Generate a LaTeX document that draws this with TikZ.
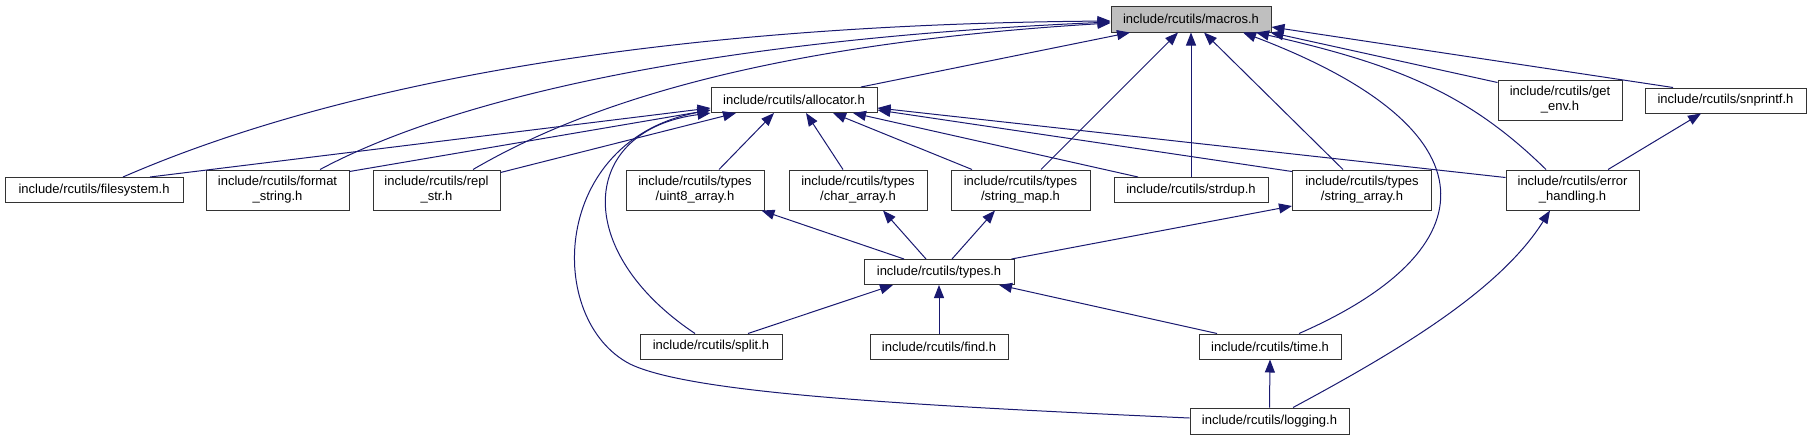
\documentclass[tikz,border=0pt]{standalone}
\usepackage{fontspec}
\setmainfont{Liberation Sans}
\usetikzlibrary{arrows.meta}

\definecolor{edgeblue}{HTML}{191970}

\tikzset{
  file/.style={draw=black!80, line width=1pt, fill=white, inner sep=0pt,
    align=center, minimum height=25pt, font=\fontsize{13}{15}\selectfont},
  file2/.style={file, minimum height=40pt},
  dep/.style={color=edgeblue, line width=1pt, -{Triangle[length=13pt,width=10pt]}},
}

\begin{document}
\begin{tikzpicture}[x=1pt, y=-1pt]

   \useasboundingbox (0,0) rectangle (1811,440);

   % top
   \node[file, fill=gray!50, minimum width=160pt, minimum height=26pt] (macros) at (1191,19) {include/rcutils/macros.h};
   \node[file, minimum width=166pt] (allocator) at (794,100) {include/rcutils/allocator.h};
   \node[file2, minimum width=124pt] (getenv) at (1560,100) {include/rcutils/get\\\_env.h};
   \node[file, minimum width=161pt] (snprintf) at (1725.5,100.5) {include/rcutils/snprintf.h};

   % middle row
   \node[file, minimum width=178pt] (filesystem) at (94,190) {include/rcutils/filesystem.h};
   \node[file2, minimum width=143pt] (formatstr) at (277.5,190) {include/rcutils/format\\\_string.h};
   \node[file2, minimum width=127pt] (replstr) at (436.5,190) {include/rcutils/repl\\\_str.h};
   \node[file2, minimum width=138pt] (uintarr) at (695,190) {include/rcutils/types\\/uint8\_array.h};
   \node[file2, minimum width=138pt] (chararr) at (858,190) {include/rcutils/types\\/char\_array.h};
   \node[file2, minimum width=139pt] (strmap) at (1020.5,190) {include/rcutils/types\\/string\_map.h};
   \node[file, minimum width=154pt] (strdup) at (1191,190) {include/rcutils/strdup.h};
   \node[file2, minimum width=139pt] (strarr) at (1362,190) {include/rcutils/types\\/string\_array.h};
   \node[file2, minimum width=133pt] (errh) at (1572.5,190) {include/rcutils/error\\\_handling.h};

   % bottom
   \node[file, minimum width=150pt] (types) at (939,272) {include/rcutils/types.h};
   \node[file, minimum width=142pt] (split) at (711,346.5) {include/rcutils/split.h};
   \node[file, minimum width=138pt] (find) at (939,346.5) {include/rcutils/find.h};
   \node[file, minimum width=142pt] (time) at (1270,346.5) {include/rcutils/time.h};
   \node[file, minimum width=159pt, minimum height=26pt] (logging) at (1269.5,421) {include/rcutils/logging.h};

   % into macros.h
   \draw[dep] ([xshift=29pt]filesystem.north) .. controls (300,100) and (600,25) .. ([yshift=-2pt]macros.west);
   \draw[dep] ([xshift=42.5pt]formatstr.north) .. controls (450,100) and (700,40) .. ([yshift=-3pt]macros.west);
   \draw[dep] ([xshift=36.5pt]replstr.north) .. controls (575,110) and (750,45) .. ([yshift=-4pt]macros.west);
   \draw[dep] ([xshift=29pt]time.north) .. controls (1490,250) and (1500,130) .. ([xshift=52pt]macros.south);
   \draw[dep] ([xshift=-26.5pt]errh.north) .. controls (1470,95) and (1400,65) .. ([xshift=65pt]macros.south);
   \path[dep]
    ([xshift=67pt]allocator.north) edge ([xshift=-61pt]macros.south)
    ([xshift=20.5pt]strmap.north) edge ([xshift=-13pt]macros.south)
    (strdup.north) edge (macros.south)
    ([xshift=-19pt]strarr.north) edge ([xshift=13pt]macros.south)
    ([yshift=-3pt]getenv.north west) edge ([xshift=-1pt]macros.south east)
    ([xshift=-52.5pt]snprintf.north) edge ([yshift=-8pt]macros.east);

   % into allocator.h
   \draw[dep] ([xshift=-16pt]split.north) .. controls (570,250) and (580,130) .. (allocator.south west);
   \draw[dep] ([yshift=3pt]logging.west) .. controls (900,405) and (690,393) .. (630,364)
              .. controls (545,320) and (550,140) .. ([yshift=-10pt]allocator.west);
   \path[dep]
    ([xshift=56pt]filesystem.north) edge ([yshift=-8pt]allocator.west)
    ([yshift=-2pt]formatstr.north east) edge ([yshift=-10pt]allocator.west)
    ([yshift=-3pt]replstr.north east) edge ([xshift=-58pt]allocator.south)
    ([xshift=24pt]uintarr.north) edge ([xshift=-20pt]allocator.south)
    ([xshift=-15pt]chararr.north) edge ([xshift=12pt]allocator.south)
    ([xshift=-48.5pt]strmap.north) edge ([xshift=39pt]allocator.south)
    ([xshift=-53pt]strdup.north) edge ([xshift=59pt]allocator.south)
    ([yshift=-2pt]strarr.north west) edge ([yshift=-10pt]allocator.east)
    ([yshift=-8pt]errh.north west) edge ([yshift=-8pt]allocator.east);

   % types.h and below
   \path[dep]
    ([xshift=-35pt]types.north) edge ([xshift=-3pt]uintarr.south east)
    ([xshift=-13pt]types.north) edge ([xshift=25pt]chararr.south)
    ([xshift=13pt]types.north) edge ([xshift=-25.5pt]strmap.south)
    ([xshift=-3pt]types.north east) edge ([yshift=-16pt]strarr.west)
    ([xshift=37pt]split.north) edge ([xshift=-46pt]types.south)
    (find.north) edge (types.south)
    ([xshift=-53pt]time.north) edge ([xshift=60pt]types.south)
    (logging.north) edge (time.south)
    ([xshift=35.5pt]errh.north) edge ([xshift=-24.5pt]snprintf.south);
   \draw[dep] ([xshift=23.5pt]logging.north) .. controls (1400,350) and (1500,290) .. ([xshift=-22.5pt]errh.south);

\end{tikzpicture}
\end{document}
